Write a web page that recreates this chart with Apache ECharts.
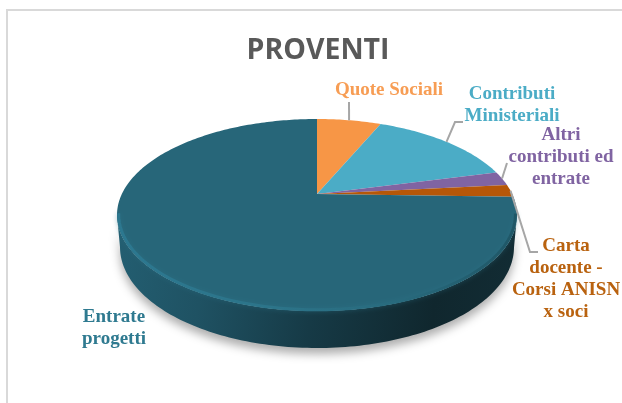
<!DOCTYPE html>
<html>
<head>
<meta charset="utf-8">
<title>Proventi</title>
<style>
html, body { margin: 0; padding: 0; background: #fff; }
#chart { width: 622px; height: 403px; }
</style>
<script src="https://cdn.jsdelivr.net/npm/echarts@6/dist/echarts.min.js"></script>
</head>
<body>
<div id="chart"></div>
<script>
var categories = ['Quote Sociali', 'Contributi\nMinisteriali', 'Altri\ncontributi ed\nentrate', 'Carta\ndocente -\nCorsi ANISN\nx soci', 'Entrate\nprogetti'];
var values = [6.4, 14.6, 2.4, 2.1, 74.5];
var sliceColors = ['#f79646', '#4bacc6', '#8064a2', '#b65708', '#276679'];
var labelColors = ['#f79d54', '#4bacc6', '#8064a2', '#b9620f', '#2f7a90'];

// where each label sits, and the elbow of its leader line
var labelPos = [[389, 90], [512, 105], [561, 157], [566, 279], [114, 328]];
var leaderBend = [[349, 102], [455, 122], [507, 163], [530, 252], null];
var leaderEnd = [null, [463, 122], null, [538, 252], null];

// top face: ellipse on screen, apex of the pie is off centre because of the perspective
var cx = 317, cy = 215, rx = 200, ry = 96;
var apexShift = -0.219;
var scaleU = Math.sqrt(1 - apexShift * apexShift);
// bottom edge of the side wall
var cx2 = 317, cy2 = 247, rx2 = 197, ry2 = 101;

var total = values.reduce(function (a, b) { return a + b; }, 0);

function project(u, v) {
	var w = 1 + apexShift * v;
	return [u * scaleU / w, (v + apexShift) / w];
}
function rimPoint(share, r) {
	var t = share * 2 * Math.PI;
	var p = project(r * Math.sin(t), -r * Math.cos(t));
	return [cx + rx * p[0], cy + ry * p[1], p[1], p[0]];
}
function startShare(i) {
	var s = 0;
	for (var k = 0; k < i; k++) s += values[k] / total;
	return s;
}

function renderWall(params, api) {
	var i = params.dataIndex;
	var from = startShare(i), to = from + api.value(0) / total;
	var up = [], low = [];
	for (var n = 0; n <= 240; n++) {
		var p = rimPoint(from + (to - from) * n / 240, 1);
		if (p[2] < 0) continue;
		up.push([p[0], p[1]]);
		low.unshift([cx2 + rx2 * p[3], cy2 + ry2 * p[2]]);
	}
	if (!up.length) return null;
	return {
		type: 'polygon',
		shape: { points: up.concat(low) },
		style: {
			fill: new echarts.graphic.LinearGradient(0, 0.2, 1, 0.6, [
				{ offset: 0, color: '#235e71' },
				{ offset: 0.22, color: '#1f5263' },
				{ offset: 0.5, color: '#163a46' },
				{ offset: 0.8, color: '#10272e' },
				{ offset: 1, color: '#122c34' }
			]),
			shadowBlur: 10,
			shadowOffsetY: 6,
			shadowColor: 'rgba(0,0,0,0.32)'
		}
	};
}

function renderTop(params, api) {
	var i = params.dataIndex;
	var from = startShare(i), to = from + api.value(0) / total;
	var pts = [rimPoint(0, 0).slice(0, 2)];
	var steps = Math.max(8, Math.round((to - from) * 360));
	for (var n = 0; n <= steps; n++) {
		pts.push(rimPoint(from + (to - from) * n / steps, 1).slice(0, 2));
	}
	return {
		type: 'polygon',
		shape: { points: pts },
		style: { fill: sliceColors[i] }
	};
}

function renderSheen(params, api) {
	var i = params.dataIndex;
	var from = startShare(i), to = from + api.value(0) / total;
	var pts = [];
	for (var n = 0; n <= 240; n++) {
		var p = rimPoint(from + (to - from) * n / 240, 0.992);
		if (p[2] >= -0.02) pts.push([p[0], p[1]]);
	}
	if (!pts.length) return null;
	return {
		type: 'polyline',
		shape: { points: pts },
		style: {
			fill: null,
			lineWidth: 3,
			stroke: new echarts.graphic.LinearGradient(0, 0, 1, 0, [
				{ offset: 0, color: '#2c7890' },
				{ offset: 0.4, color: '#2c7489' },
				{ offset: 0.7, color: '#286a7d' },
				{ offset: 1, color: '#1f5666' }
			]),
			shadowBlur: 5,
			shadowColor: 'rgba(44,116,137,0.5)'
		}
	};
}

function renderLabel(params, api) {
	var i = params.dataIndex;
	var from = startShare(i), to = from + api.value(0) / total;
	var children = [];
	if (leaderBend[i]) {
		var a = rimPoint((from + to) / 2, 1);
		var line = [[a[0], a[1]], leaderBend[i]];
		if (leaderEnd[i]) line.push(leaderEnd[i]);
		children.push({
			type: 'polyline',
			shape: { points: line },
			style: { fill: null, stroke: '#a6a6a6', lineWidth: 2 }
		});
	}
	children.push({
		type: 'text',
		style: {
			x: labelPos[i][0],
			y: labelPos[i][1],
			text: categories[i],
			fill: labelColors[i],
			font: 'bold 19px "Liberation Serif"',
			lineHeight: 22,
			align: 'center',
			verticalAlign: 'middle'
		}
	});
	return { type: 'group', children: children };
}

var chart = echarts.init(document.getElementById('chart'), null, { renderer: 'canvas' });
chart.setOption({
	animation: false,
	backgroundColor: '#ffffff',
	title: {
		text: 'PROVENTI',
		left: 313,
		top: 31,
		textAlign: 'center',
		textStyle: { color: '#595959', fontFamily: 'Open Sans', fontWeight: 'bold', fontSize: 28.5 }
	},
	graphic: [{
		type: 'rect',
		shape: { x: 7, y: 10, width: 700, height: 500 },
		style: { fill: null, stroke: '#d9d9d9', lineWidth: 2 },
		silent: true
	}],
	series: [
		{ type: 'custom', name: 'wall', coordinateSystem: 'none', z: 1, silent: true, renderItem: renderWall, data: values },
		{ type: 'custom', name: 'top', coordinateSystem: 'none', z: 2, silent: true, renderItem: renderTop, data: values },
		{ type: 'custom', name: 'sheen', coordinateSystem: 'none', z: 3, silent: true, renderItem: renderSheen, data: values },
		{ type: 'custom', name: 'labels', coordinateSystem: 'none', z: 4, silent: true, renderItem: renderLabel, data: values }
	]
});
</script>
</body>
</html>
